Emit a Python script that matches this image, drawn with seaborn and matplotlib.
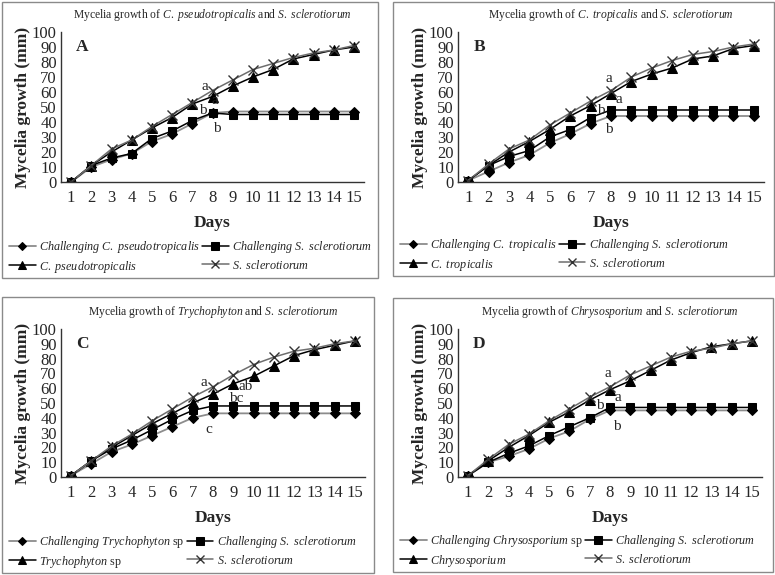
import numpy as np
import pandas as pd
import seaborn as sns
import matplotlib.pyplot as plt
from matplotlib.patches import Rectangle

sns.set_style('white')
plt.rcParams['font.family'] = ['Liberation Serif', 'DejaVu Serif']
plt.rcParams['mathtext.fontset'] = 'custom'
plt.rcParams['mathtext.rm'] = 'Liberation Serif'
plt.rcParams['mathtext.it'] = 'Liberation Serif:italic'
plt.rcParams['mathtext.bf'] = 'Liberation Serif:bold'

days = list(range(1, 16))

# panel A
a_chal_fungus = [0, 10, 15, 19, 27, 32, 39, 46, 47, 47, 47, 47, 47, 47, 47]
a_chal_scl = [0, 11, 16, 19, 29, 34, 41, 46, 45, 45, 45, 45, 45, 45, 45]
a_fungus = [0, 11, 20, 28, 36, 43, 52, 57, 64, 70, 75, 82, 85, 88, 90]
a_scl = [0, 11, 22, 28, 37, 45, 53, 61, 68, 75, 79, 83, 86, 88, 91]
# panel B
b_chal_fungus = [1, 7, 13, 18, 26, 32, 39, 44, 44, 44, 44, 44, 44, 44, 44]
b_chal_scl = [1, 11, 17, 21, 30, 35, 43, 48, 48, 48, 48, 48, 48, 48, 48]
b_fungus = [1, 11, 20, 27, 35, 44, 51, 59, 67, 72, 76, 82, 84, 89, 91]
b_scl = [1, 12, 22, 28, 38, 46, 54, 61, 70, 76, 81, 85, 87, 90, 92]
# panel C
c_chal_fungus = [1, 9, 17, 22, 28, 34, 40, 43, 43, 43, 43, 43, 43, 43, 43]
c_chal_scl = [1, 11, 19, 25, 32, 39, 45, 48, 48, 48, 48, 48, 48, 48, 48]
c_fungus = [1, 11, 20, 28, 36, 43, 50, 56, 63, 68, 75, 82, 86, 89, 92]
c_scl = [1, 11, 21, 29, 38, 46, 54, 61, 69, 76, 81, 85, 87, 90, 92]
# panel D
d_chal_fungus = [1, 10, 14, 19, 26, 31, 39, 45, 45, 45, 45, 45, 45, 45, 45]
d_chal_scl = [1, 10, 16, 21, 28, 34, 40, 47, 47, 47, 47, 47, 47, 47, 47]
d_fungus = [1, 11, 20, 28, 37, 44, 52, 59, 65, 72, 79, 84, 88, 90, 92]
d_scl = [1, 12, 22, 29, 38, 46, 54, 61, 69, 75, 81, 85, 87, 90, 92]

titles = [r'Mycelia growth of $\mathit{C.\ pseudotropicalis}$ and $\mathit{S.\ sclerotiorum}$',
          r'Mycelia growth of $\mathit{C.\ tropicalis}$ and $\mathit{S.\ sclerotiorum}$',
          r'Mycelia growth of $\mathit{Trychophyton}$ and $\mathit{S.\ sclerotiorum}$',
          r'Mycelia growth of $\mathit{Chrysosporium}$ and $\mathit{S.\ sclerotiorum}$']
letters = ['A', 'B', 'C', 'D']
chal_labels = [r'$\mathit{Challenging\ C.\ pseudotropicalis}$',
               r'$\mathit{Challenging\ C.\ tropicalis}$',
               r'$\mathit{Challenging\ Trychophyton}$ sp',
               r'$\mathit{Challenging\ Chrysosporium}$ sp']
fungus_labels = [r'$\mathit{C.\ pseudotropicalis}$', r'$\mathit{C.\ tropicalis}$',
                 r'$\mathit{Trychophyton}$ sp', r'$\mathit{Chrysosporium}$']
scl_chal_label = r'$\mathit{Challenging\ S.\ sclerotiorum}$'
scl_label = r'$\mathit{S.\ sclerotiorum}$'

# letters of significance (text, day, value)
a_sig = [('a', 7.6, 64), ('a', 8.1, 54), ('b', 7.5, 48), ('b', 8.2, 36)]
b_sig = [('a', 7.9, 69), ('a', 8.4, 55), ('b', 7.5, 48), ('b', 7.9, 35)]
c_sig = [('a', 7.55, 64), ('ab', 9.6, 61), ('bc', 9.15, 53), ('c', 7.8, 32)]
d_sig = [('a', 7.9, 70), ('a', 8.4, 54), ('b', 7.5, 48), ('b', 8.35, 34)]

panels = [
    (a_chal_fungus, a_chal_scl, a_fungus, a_scl, a_sig),
    (b_chal_fungus, b_chal_scl, b_fungus, b_scl, b_sig),
    (c_chal_fungus, c_chal_scl, c_fungus, c_scl, c_sig),
    (d_chal_fungus, d_chal_scl, d_fungus, d_scl, d_sig),
]

W, H = 775, 575
fig = plt.figure(figsize=(7.75, 5.75), dpi=100)

# pixel geometry: axes (left, top, right, bottom) and panel frame
ax_px = [(61, 32, 364, 182), (458, 32, 764, 182), (61, 329, 365, 477), (458, 329, 762, 477)]
frame_px = [(2, 2, 378, 278), (393, 2, 774, 276), (2, 297, 374, 573), (393, 298, 773, 572)]

for i, (cf, cs, fu, sc, sig) in enumerate(panels):
    l, t, r, b = ax_px[i]
    ax = fig.add_axes([l / W, 1 - b / H, (r - l) / W, (b - t) / H])
    sns.lineplot(x=days, y=cf, ax=ax, color='#8c8c8c', lw=1.3, marker='D', ms=5,
                 mfc='black', mec='black', label=chal_labels[i])
    sns.lineplot(x=days, y=fu, ax=ax, color='black', lw=1.1, marker='^', ms=6.5,
                 mfc='black', mec='black', label=fungus_labels[i])
    sns.lineplot(x=days, y=cs, ax=ax, color='black', lw=1.1, marker='s', ms=6,
                 mfc='black', mec='black', label=scl_chal_label)
    sns.lineplot(x=days, y=sc, ax=ax, color='#6e6e6e', lw=1.1, marker='x', ms=6.5,
                 mec='#333333', mew=1.0, label=scl_label)
    ax.set_xlim(0.5, 15.5)
    ax.set_ylim(0, 100)
    ax.set_xticks(days)
    ax.set_yticks(range(0, 101, 10))
    ax.tick_params(axis='both', length=0, labelsize=12, pad=3)
    ax.tick_params(axis='x', pad=6)
    for s in ['top', 'right']:
        ax.spines[s].set_visible(False)
    for s in ['left', 'bottom']:
        ax.spines[s].set_color('#333333')
        ax.spines[s].set_linewidth(1.0)
    ax.set_xlabel('Days', fontsize=12.5, fontweight='bold', labelpad=6)
    ax.set_ylabel('Mycelia growth (mm)', fontsize=12.5, fontweight='bold', labelpad=1)
    ax.text(0.05, 0.9, letters[i], transform=ax.transAxes, fontsize=12.5,
            fontweight='bold', ha='left', va='center')
    for s_txt, sx, sy in sig:
        ax.text(sx, sy, s_txt, fontsize=11, ha='center', va='center')
    ax.set_title(titles[i], fontsize=8.4, pad=10)
    fl, ft, fr, fb = frame_px[i]
    ax.legend(loc='upper left', bbox_to_anchor=((fl + 7) / W, 1 - (fb - 39) / H),
              bbox_transform=fig.transFigure, ncol=2, frameon=False, fontsize=8.7,
              handlelength=2.2, handletextpad=0.3, columnspacing=0.15,
              labelspacing=0.3, borderpad=0, borderaxespad=0, markerscale=0.85)
    fig.add_artist(Rectangle((fl / W, 1 - fb / H), (fr - fl) / W, (fb - ft) / H,
                             transform=fig.transFigure, fill=False,
                             edgecolor='#8a8a8a', lw=1.0))

fig.savefig('out.png', dpi=100)
